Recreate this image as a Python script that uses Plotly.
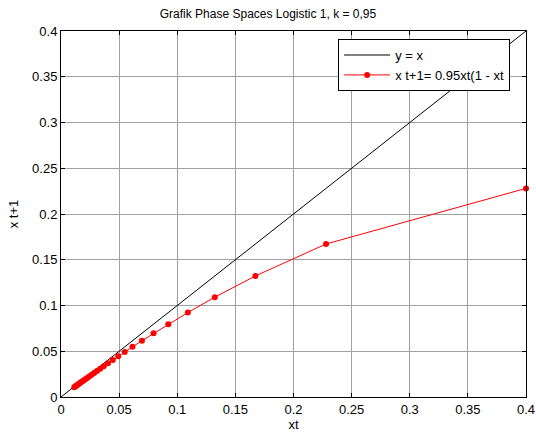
import plotly.graph_objects as go

# Data (phase-space pairs x_t -> x_{t+1})
xt = [0.4, 0.228, 0.1672, 0.1323, 0.1091, 0.0923, 0.0796, 0.0696, 0.0615, 0.0548,
      0.0492, 0.0445, 0.0404, 0.0368, 0.0337, 0.0309, 0.0285, 0.0263, 0.0243, 0.0225,
      0.0209, 0.0195, 0.0181, 0.0169, 0.0158, 0.0148, 0.0138, 0.0129, 0.0121, 0.0114]
xt1 = [0.228, 0.1672, 0.1323, 0.1091, 0.0923, 0.0796, 0.0696, 0.0615, 0.0548, 0.0492,
       0.0445, 0.0404, 0.0368, 0.0337, 0.0309, 0.0285, 0.0263, 0.0243, 0.0225, 0.0209,
       0.0195, 0.0181, 0.0169, 0.0158, 0.0148, 0.0138, 0.0129, 0.0121, 0.0114, 0.0107]
line_x = [0, 0.4]
line_y = [0, 0.4]
xticks = [0, 0.05, 0.1, 0.15, 0.2, 0.25, 0.3, 0.35, 0.4]
xticklabels = ["0", "0.05", "0.1", "0.15", "0.2", "0.25", "0.3", "0.35", "0.4"]
yticks = xticks
yticklabels = xticklabels

fig = go.Figure()
fig.add_trace(go.Scatter(x=line_x, y=line_y, mode="lines", name="y = x",
                         line=dict(color="black", width=1), cliponaxis=False))
fig.add_trace(go.Scatter(x=xt, y=xt1, mode="lines+markers", name="x t+1= 0.95xt(1 - xt",
                         line=dict(color="red", width=1), cliponaxis=False,
                         marker=dict(color="red", size=6)))

font = "Liberation Sans, Arial, sans-serif"
axis_common = dict(showgrid=True, gridcolor="#a0a0a0", gridwidth=1, automargin=False,
                   zeroline=False, showline=True, linecolor="black", linewidth=1,
                   mirror="allticks", ticks="inside", ticklen=4, tickcolor="black",
                   ticklabeloverflow="allow",
                   tickfont=dict(family=font, size=13, color="black"))

fig.update_layout(
    width=536, height=437,
    margin=dict(l=61, r=10, t=31, b=40, autoexpand=False),
    paper_bgcolor="white", plot_bgcolor="white",
    title=dict(text="Grafik Phase Spaces Logistic 1, k = 0,95", x=0.5, xanchor="center",
               y=1 - 14/437, yanchor="middle",
               font=dict(family=font, size=12, color="black")),
    xaxis=dict(range=[0, 0.4], tickvals=xticks, ticktext=xticklabels,
               title=dict(text="xt", font=dict(family=font, size=13, color="black"), standoff=3),
               **axis_common),
    yaxis=dict(range=[0, 0.4], tickvals=yticks, ticktext=yticklabels,
               title=dict(text="x t+1", font=dict(family=font, size=13, color="black"), standoff=10),
               **axis_common),
    legend=dict(x=0.596, y=0.978, xanchor="left", yanchor="top",
                bgcolor="white", bordercolor="black", borderwidth=1,
                font=dict(family=font, size=13, color="black"),
                tracegroupgap=0, itemwidth=46),
    showlegend=True,
)

fig.write_html("out.html", config={"displayModeBar": False},
               post_script="document.body.style.margin='0px';document.body.style.padding='0px';")
